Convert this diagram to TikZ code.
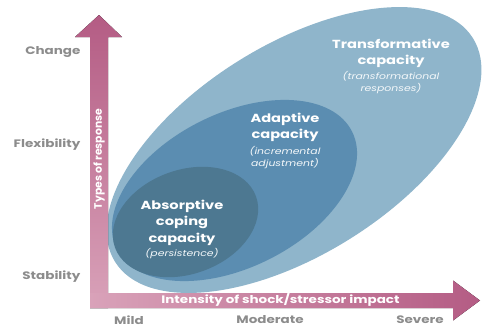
\documentclass[tikz,border=0pt]{standalone}
\usepackage{fontspec}
\setmainfont{Poppins}[FakeStretch=1.25]
\newfontfamily\uprightpop{Poppins}
\usepackage{xcolor}

\definecolor{lightcap}{HTML}{8FB5CB}
\definecolor{midcap}{HTML}{5B8DB1}
\definecolor{darkcap}{HTML}{4D7891}
\definecolor{axisdark}{HTML}{B45C84}
\definecolor{axislight}{HTML}{D9A2B9}
\definecolor{labelgray}{HTML}{8C8C8C}

\begin{document}
\begin{tikzpicture}[x=1pt,y=1pt,
    title/.style={text=white, font=\bfseries\fontsize{11.7}{16.5}\selectfont, align=center},
    note/.style={text=white!90!lightcap, font=\itshape\fontsize{8.7}{12.5}\selectfont, align=center},
    level/.style={text=labelgray, font=\bfseries\fontsize{10.8}{12}\selectfont, anchor=east},
    tick/.style={text=labelgray, font=\bfseries\fontsize{10.8}{12}\selectfont},
    axistext/.style={text=white, font=\bfseries\fontsize{10.8}{12}\selectfont}]
    \useasboundingbox (0,0) rectangle (487,333);

    % Draw capacity ellipses
    \fill[lightcap, rotate around={32:(294,183)}] (294,183) ellipse (211 and 105); % transformative
    \fill[midcap, rotate around={26.6:(234.5,142.5)}] (234.5,142.5) ellipse (131.5 and 77); % adaptive
    \fill[darkcap, rotate around={20:(185.5,111)}] (185.5,111) ellipse (75 and 52); % absorptive

    % Draw axes as block arrows
    \fill[bottom color=axislight, top color=axisdark]
        (90,25) -- (108,25) -- (108,296) -- (122,296) -- (99,318) -- (75,296) -- (90,296) -- cycle; % response axis
    \fill[left color=axislight, right color=axisdark]
        (90,25) -- (453,25) -- (453,12.5) -- (480,32.5) -- (453,52.5) -- (453,40) -- (90,40) -- cycle; % intensity axis

    % Axis titles
    \node[text=white, font=\uprightpop\bfseries\fontsize{10.8}{12}\selectfont, rotate=90] (resp) at (99,174) {Types of response};
    \node[axistext] (impact) at (280.5,33) {Intensity of shock/stressor impact};

    % Label levels
    \node[level] (change) at (84,281) {Change};
    \node[level] (flex) at (84,188) {Flexibility};
    \node[level] (stab) at (84,56) {Stability};
    \node[tick] (mild) at (129,13) {Mild};
    \node[tick] (moderate) at (270,13) {Moderate};
    \node[tick] (severe) at (420,13) {Severe};

    % Label capacities
    \node[title] (transf) at (391,279.5) {Transformative\\capacity};
    \node[note] (transfnote) at (391,250.5) {(transformational\\responses)};
    \node[title] (adapt) at (285,205.5) {Adaptive\\capacity};
    \node[note] (adaptnote) at (285,175.5) {(incremental\\adjustment)};
    \node[title] (absorb) at (182,110.5) {Absorptive\\coping\\capacity};
    \node[note] (absorbnote) at (182,79) {(persistence)};
\end{tikzpicture}
\end{document}
